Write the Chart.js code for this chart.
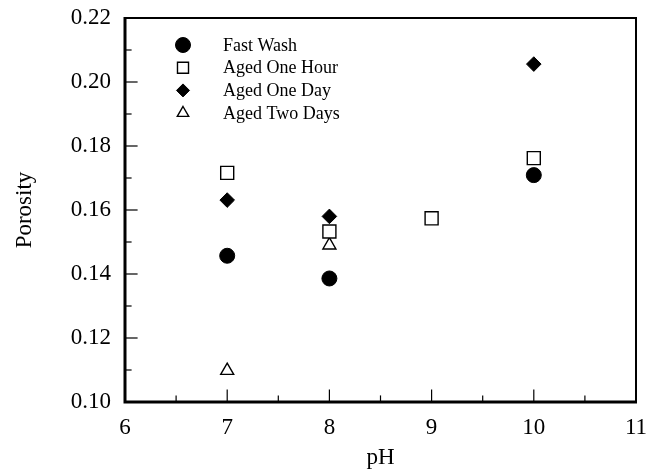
<!DOCTYPE html>
<html>
<head>
<meta charset="utf-8">
<script src="https://cdn.jsdelivr.net/npm/chart.js@4/dist/chart.umd.min.js"></script>
<style>
  html, body { margin: 0; padding: 0; background: #fff; }
  #c { display: block; }
</style>
</head>
<body>
<canvas id="c" width="660" height="471"></canvas>
<script>
// ---- data ----
const seriesNames = ['Fast Wash', 'Aged One Hour', 'Aged One Day', 'Aged Two Days'];
const fastWashPH = [7, 8, 10];
const fastWashPorosity = [0.1457, 0.1386, 0.1709];
const agedOneHourPH = [7, 8, 9, 10];
const agedOneHourPorosity = [0.1716, 0.1533, 0.1574, 0.1762];
const agedOneDayPH = [7, 8, 10];
const agedOneDayPorosity = [0.1631, 0.1580, 0.2056];
const agedTwoDaysPH = [7, 8];
const agedTwoDaysPorosity = [0.1098, 0.1490];
const xTickLabels = ['6', '7', '8', '9', '10', '11'];
const yTickLabels = ['0.10', '0.12', '0.14', '0.16', '0.18', '0.20', '0.22'];

function pts(xs, ys) { return xs.map((x, i) => ({ x: x, y: ys[i] })); }

const FONT = 'Liberation Serif, Times New Roman, serif';

const styles = [
  { pointStyle: 'circle', pointRadius: 7.5, backgroundColor: '#000', borderColor: '#000', borderWidth: 1, legendRadius: 7.5 },
  { pointStyle: 'rect', pointRadius: 9.2, backgroundColor: '#fff', borderColor: '#000', borderWidth: 1.4, legendRadius: 7.8 },
  { pointStyle: 'rectRot', pointRadius: 7.3, backgroundColor: '#000', borderColor: '#000', borderWidth: 1, legendRadius: 6.5 },
  { pointStyle: 'triangle', pointRadius: 7.5, backgroundColor: '#fff', borderColor: '#000', borderWidth: 1.4, legendRadius: 6.6 }
];

const datasets = [
  pts(fastWashPH, fastWashPorosity),
  pts(agedOneHourPH, agedOneHourPorosity),
  pts(agedOneDayPH, agedOneDayPorosity),
  pts(agedTwoDaysPH, agedTwoDaysPorosity)
].map((d, i) => Object.assign({
  label: seriesNames[i],
  data: d,
  showLine: false,
  pointHoverRadius: styles[i].pointRadius
}, styles[i]));

// frame, inward ticks and in-plot legend
const framePlugin = {
  id: 'frame',
  afterDraw(chart) {
    const ctx = chart.ctx;
    const a = chart.chartArea;
    const xs = chart.scales.x, ys = chart.scales.y;
    ctx.save();
    ctx.strokeStyle = '#000';
    ctx.lineCap = 'square';
    ctx.lineWidth = 1.2;
    ys.ticks.forEach(t => {
      const v = t.value;
      const major = Math.abs(Math.round(v * 100) % 2) === 0;
      const y = ys.getPixelForValue(v);
      if (y <= a.top + 1 || y >= a.bottom - 1) return;
      ctx.beginPath();
      ctx.moveTo(a.left, y);
      ctx.lineTo(a.left + (major ? 12 : 6), y);
      ctx.stroke();
    });
    xs.ticks.forEach(t => {
      const v = t.value;
      const major = Math.abs(v - Math.round(v)) < 1e-6;
      const x = xs.getPixelForValue(v);
      if (x <= a.left + 1 || x >= a.right - 1) return;
      ctx.beginPath();
      ctx.moveTo(x, a.bottom);
      ctx.lineTo(x, a.bottom - (major ? 12 : 6));
      ctx.stroke();
    });
    ctx.lineCap = 'butt';
    ctx.lineWidth = 2;
    ctx.beginPath();
    ctx.moveTo(a.left, a.top);
    ctx.lineTo(a.right, a.top);
    ctx.lineTo(a.right, a.bottom);
    ctx.stroke();
    ctx.lineWidth = 3;
    ctx.beginPath();
    ctx.moveTo(a.left, a.top - 1);
    ctx.lineTo(a.left, a.bottom);
    ctx.lineTo(a.right + 1, a.bottom);
    ctx.stroke();

    // legend
    const lx = 183, tx = 223, y0 = 45, dy = 22.7;
    ctx.font = '18px ' + FONT;
    ctx.textAlign = 'left';
    ctx.textBaseline = 'middle';
    chart.data.datasets.forEach((ds, i) => {
      const y = y0 + i * dy;
      ctx.fillStyle = ds.backgroundColor;
      ctx.strokeStyle = ds.borderColor;
      ctx.lineWidth = ds.borderWidth;
      Chart.helpers.drawPoint(ctx, { pointStyle: ds.pointStyle, radius: ds.legendRadius, rotation: 0, borderWidth: ds.borderWidth }, lx, y);
      ctx.fillStyle = '#000';
      ctx.fillText(ds.label, tx, y + 1);
    });
    ctx.restore();
  }
};

new Chart(document.getElementById('c'), {
  type: 'scatter',
  data: { datasets: datasets },
  options: {
    responsive: false,
    animation: false,
    events: [],
    layout: { padding: { left: 0, right: 24, top: 18, bottom: 0 } },
    plugins: { legend: { display: false }, tooltip: { enabled: false } },
    scales: {
      x: {
        type: 'linear',
        min: 6, max: 11,
        grid: { display: false, drawTicks: false },
        border: { display: false },
        ticks: {
          stepSize: 0.5,
          padding: 12,
          color: '#000',
          font: { family: FONT, size: 23 },
          maxRotation: 0,
          autoSkip: false,
          callback: v => {
            const i = Math.round(v - 6);
            return Math.abs(v - Math.round(v)) < 1e-6 ? xTickLabels[i] : '';
          }
        },
        title: { display: true, text: 'pH', color: '#000', font: { family: FONT, size: 23, lineHeight: 1 }, padding: { top: 0, bottom: 2 } },
        afterFit: s => { s.height = 69; s.paddingLeft = 0; s.paddingRight = 0; }
      },
      y: {
        type: 'linear',
        min: 0.10, max: 0.22,
        grid: { display: false, drawTicks: false },
        border: { display: false },
        ticks: {
          stepSize: 0.01,
          padding: 14,
          color: '#000',
          font: { family: FONT, size: 23 },
          autoSkip: false,
          callback: v => {
            const k = Math.round(v * 100);
            return k % 2 === 0 ? yTickLabels[(k - 10) / 2] : '';
          }
        },
        title: { display: true, text: 'Porosity', color: '#000', font: { family: FONT, size: 23, lineHeight: 1 }, padding: { top: 13, bottom: 0 } },
        afterFit: s => { s.width = 125; s.paddingTop = 0; s.paddingBottom = 0; }
      }
    }
  },
  plugins: [framePlugin]
});
</script>
</body>
</html>
